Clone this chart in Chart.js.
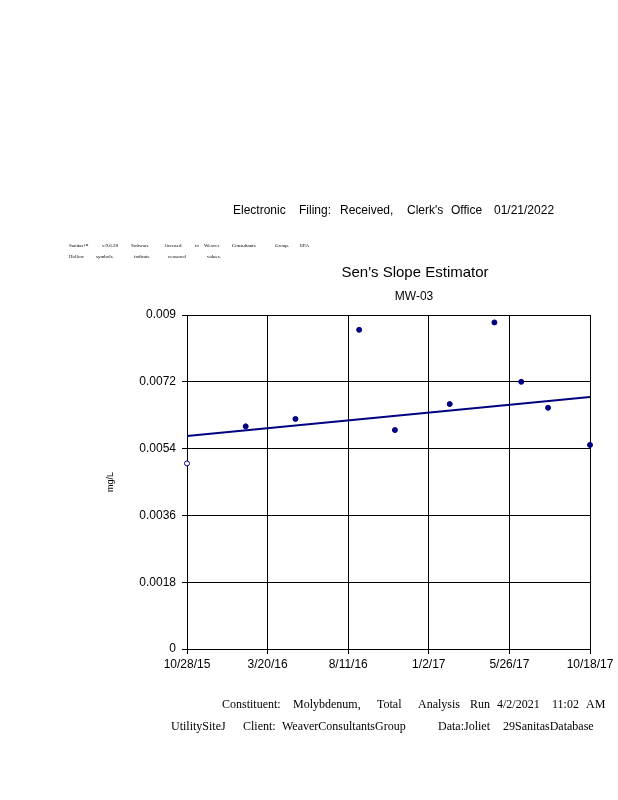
<!DOCTYPE html>
<html>
<head>
<meta charset="utf-8">
<script src="https://cdn.jsdelivr.net/npm/chart.js@4/dist/chart.umd.min.js"></script>
<style>
  html, body { margin: 0; padding: 0; background: #fff; }
  #wrap { width: 618px; height: 800px; }
</style>
</head>
<body>
<div id="wrap"><canvas id="chart-sens"></canvas></div>
<script>
// data
var startDate = "2015-10-28";
var sampleDates = ["2015-10-28", "2016-02-10", "2016-05-09", "2016-08-31", "2016-11-03",
                   "2017-02-09", "2017-04-30", "2017-06-17", "2017-08-04", "2017-10-18"];
var sampleValues = [0.0050, 0.0060, 0.0062, 0.0086, 0.0059, 0.0066, 0.0088, 0.0072, 0.0065, 0.0055];
var censored = [true, false, false, false, false, false, false, false, false, false];

var trendDates = ["2015-10-28", "2017-10-18"];
var trendValues = [0.00574, 0.00679];

var xTickLabels = ["10/28/15", "3/20/16", "8/11/16", "1/2/17", "5/26/17", "10/18/17"];
var yTickLabels = ["0", "0.0018", "0.0036", "0.0054", "0.0072", "0.009"];

function dayOf(s) {
    return (Date.parse(s) - Date.parse(startDate)) / 86400000;
}
var spanDays = dayOf("2017-10-18");

var navy = "#000080";

// text around the chart
var textPlugin = {
    id: "pageText",
    afterDraw: function(chart) {
        var c = chart.ctx;
        c.save();
        c.fillStyle = "#000";
        c.textBaseline = "middle";

        function words(list, y, font) {
            c.font = font;
            c.textAlign = "left";
            list.forEach(function(w) { c.fillText(w[0], w[1], y); });
        }

        words([["Electronic", 233], ["Filing:", 299], ["Received,", 340], ["Clerk's", 407],
               ["Office", 451], ["01/21/2022", 494]], 211, "12px 'Liberation Sans Narrow', 'Liberation Sans'");

        words([["Sanitas\u2122", 69], ["v.9.6.28", 102], ["Software", 131], ["licensed", 165], ["to", 195],
               ["Weaver", 204], ["Consultants", 232], ["Group.", 275], ["EPA", 300]], 246, "5px 'Liberation Serif'");
        words([["Hollow", 69], ["symbols", 96], ["indicate", 134], ["censored", 168], ["values.", 207]],
              257, "5px 'Liberation Serif'");

        c.textAlign = "center";
        c.font = "15px 'Liberation Sans'";
        c.fillText("Sen's Slope Estimator", 415, 273);
        c.font = "12px 'Liberation Sans'";
        c.fillText("MW-03", 414, 297);

        c.save();
        c.translate(111, 482);
        c.rotate(-Math.PI / 2);
        c.font = "9px 'Liberation Sans'";
        c.fillText("mg/L", 0, 0);
        c.restore();

        words([["Constituent:", 222], ["Molybdenum,", 293], ["Total", 377], ["Analysis", 418], ["Run", 470],
               ["4/2/2021", 497], ["11:02", 552], ["AM", 586]], 705, "12px 'Liberation Serif'");
        words([["UtilitySiteJ", 171], ["Client:", 243], ["WeaverConsultantsGroup", 282],
               ["Data:Joliet", 438], ["29SanitasDatabase", 503]], 727, "12px 'Liberation Serif'");
        c.restore();
    }
};

var ctx1 = document.getElementById("chart-sens").getContext("2d");

new Chart(ctx1, {
    type: "scatter",
    data: {
        datasets: [{
            label: "Samples",
            data: sampleDates.map(function(d, i) { return { x: dayOf(d), y: sampleValues[i] }; }),
            pointRadius: 2.5,
            pointBorderWidth: 1,
            pointBorderColor: navy,
            pointBackgroundColor: censored.map(function(c) { return c ? "#fff" : navy; }),
            showLine: false,
            clip: false,
            order: 1
        }, {
            label: "Sen's slope",
            type: "line",
            data: trendDates.map(function(d, i) { return { x: dayOf(d), y: trendValues[i] }; }),
            borderColor: navy,
            borderWidth: 2,
            pointRadius: 0,
            fill: false,
            order: 2
        }]
    },
    plugins: [textPlugin],
    options: {
        responsive: true,
        maintainAspectRatio: false,
        animation: false,
        layout: {
            padding: { left: 0, right: 28, top: 315, bottom: 0 }
        },
        plugins: {
            legend: { display: false },
            tooltip: { enabled: false }
        },
        scales: {
            x: {
                type: "linear",
                min: 0,
                max: spanDays,
                afterBuildTicks: function(axis) {
                    axis.ticks = xTickLabels.map(function(t, i) { return { value: i * spanDays / 5 }; });
                },
                afterFit: function(axis) { axis.height = 151; },
                grid: {
                    color: "#000",
                    lineWidth: 1,
                    drawTicks: true,
                    tickLength: 5,
                    tickColor: "#000"
                },
                border: { color: "#000", width: 1 },
                ticks: {
                    autoSkip: false,
                    maxRotation: 0,
                    padding: 3,
                    color: "#000",
                    font: { size: 12, family: "'Liberation Sans'" },
                    callback: function(v, i) { return xTickLabels[i]; }
                }
            },
            y: {
                min: 0,
                max: 0.009,
                afterBuildTicks: function(axis) {
                    axis.ticks = yTickLabels.map(function(t) { return { value: parseFloat(t) }; });
                },
                afterFit: function(axis) { axis.width = 187; },
                grid: {
                    color: "#000",
                    lineWidth: 1,
                    drawTicks: true,
                    tickLength: 5,
                    tickColor: "#000"
                },
                border: { color: "#000", width: 1 },
                ticks: {
                    padding: 6,
                    color: "#000",
                    font: { size: 12, family: "'Liberation Sans'" },
                    callback: function(v, i) { return yTickLabels[i]; }
                }
            }
        }
    }
});
</script>
</body>
</html>
